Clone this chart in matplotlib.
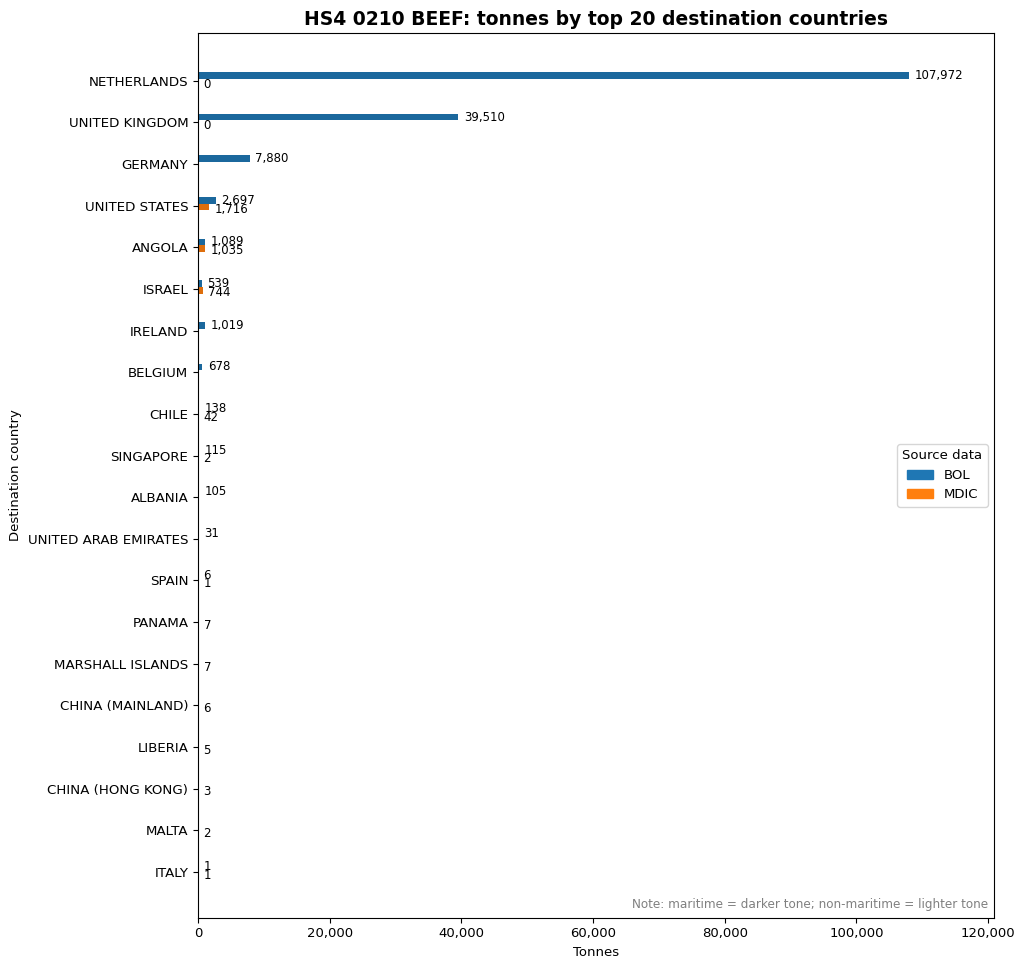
import numpy as np
import matplotlib.pyplot as plt
from matplotlib.patches import Patch
from matplotlib.colors import to_rgb

countries = ["NETHERLANDS", "UNITED KINGDOM", "GERMANY", "UNITED STATES", "ANGOLA",
             "ISRAEL", "IRELAND", "BELGIUM", "CHILE", "SINGAPORE", "ALBANIA",
             "UNITED ARAB EMIRATES", "SPAIN", "PANAMA", "MARSHALL ISLANDS",
             "CHINA (MAINLAND)", "LIBERIA", "CHINA (HONG KONG)", "MALTA", "ITALY"]
# None = no record for that source
bol = [107972, 39510, 7880, 2697, 1089, 539, 1019, 678, 138, 115, 105, 31, 6,
       None, None, None, None, None, None, 1]
mdic = [0, 0, None, 1716, 1035, 744, None, None, 42, 2, None, None, 1,
        7, 7, 6, 5, 3, 2, 1]

def darker(c, f=0.87):
    return tuple(v * f for v in to_rgb(c))

fig = plt.figure(figsize=(10.26, 9.69), dpi=100)
ax = fig.add_axes([0.193, 0.053, 0.776, 0.913])

y = np.arange(len(countries))
h = 0.16
bol_col = darker("tab:blue")
mdic_col = darker("tab:orange")

for i in range(len(countries)):
    if bol[i] is not None:
        ax.barh(y[i] - 0.13, bol[i], height=h, color=bol_col)
        ax.annotate(f"{bol[i]:,}", (bol[i], y[i] - 0.13), xytext=(4, 0),
                    textcoords="offset points", va="center", ha="left", fontsize=8.5)
    if mdic[i] is not None:
        ax.barh(y[i] + 0.03, mdic[i], height=h, color=mdic_col)
        ax.annotate(f"{mdic[i]:,}", (mdic[i], y[i] + 0.03), xytext=(4, -1.5),
                    textcoords="offset points", va="center", ha="left", fontsize=8.5)

ax.set_yticks(y)
ax.set_yticklabels(countries, fontsize=9.6)
ax.set_ylim(len(countries) - 1 + 1.1, -1.15)
ax.set_xlim(0, max(b for b in bol if b is not None) * 1.12)
ax.xaxis.set_major_formatter(plt.FuncFormatter(lambda v, p: f"{v:,.0f}"))
ax.tick_params(axis="x", labelsize=9.5)

ax.set_xlabel("Tonnes", fontsize=9.5)
ax.set_ylabel("Destination country", fontsize=9.5)
ax.set_title("HS4 0210 BEEF: tonnes by top 20 destination countries",
             fontsize=13.5, fontweight="bold")

handles = [Patch(color="tab:blue", label="BOL"), Patch(color="tab:orange", label="MDIC")]
ax.legend(handles=handles, title="Source data", loc="center right", fontsize=9.5,
          title_fontsize=9.5)

ax.text(0.992, 0.008, "Note: maritime = darker tone; non-maritime = lighter tone",
        transform=ax.transAxes, ha="right", va="bottom", fontsize=8.65, color="grey")

fig.savefig("out.png", dpi=100)
